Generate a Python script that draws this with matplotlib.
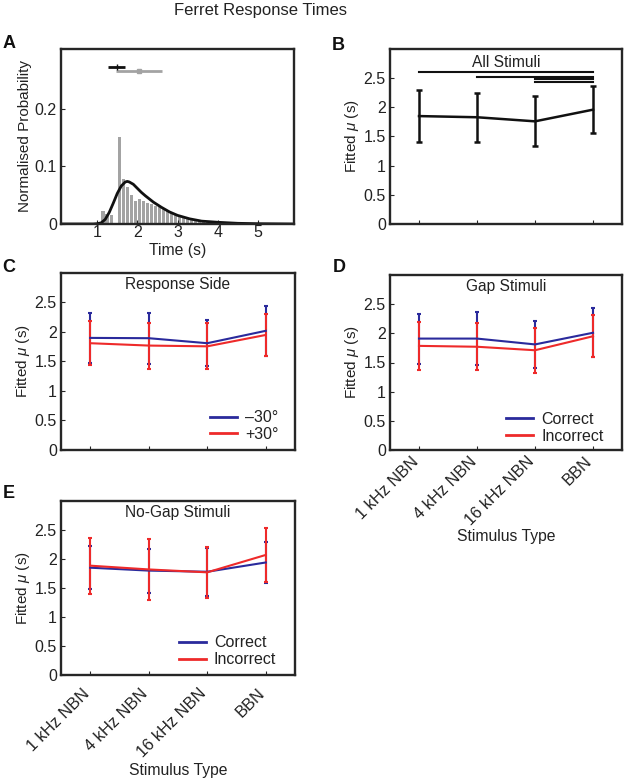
import matplotlib
matplotlib.use("Agg")
import matplotlib.pyplot as plt
from matplotlib.lines import Line2D
import numpy as np

plt.rcParams['font.family'] = ['Liberation Sans', 'DejaVu Sans']
plt.rcParams['mathtext.fontset'] = 'custom'
plt.rcParams['mathtext.it'] = 'Liberation Sans:italic'

# ---------------- data ----------------
hist_centers = [1.15, 1.25, 1.35, 1.55, 1.65, 1.75, 1.85, 1.95, 2.05, 2.15, 2.25, 2.35,
                2.45, 2.55, 2.65, 2.75, 2.85, 2.95, 3.05, 3.15, 3.25, 3.35, 3.45, 3.55,
                3.65, 3.75, 3.85, 3.95, 4.05, 4.15, 4.25, 4.35, 4.45, 4.55, 4.65, 4.75,
                4.85, 4.95, 5.05, 5.15, 5.25]
hist_heights = [0.023, 0.017, 0.016, 0.151, 0.078, 0.064, 0.050, 0.040, 0.043, 0.040, 0.037, 0.035,
                0.032, 0.029, 0.026, 0.022, 0.019, 0.016, 0.014, 0.012, 0.010, 0.009, 0.007, 0.006,
                0.005, 0.004, 0.004, 0.003, 0.003, 0.002, 0.002, 0.002, 0.002, 0.001, 0.001, 0.001,
                0.001, 0.001, 0.001, 0.001, 0.001]
fit_t = [0.1, 0.9, 1.0, 1.1, 1.2, 1.3, 1.4, 1.5, 1.6, 1.7, 1.75, 1.8, 1.9, 2.0, 2.1, 2.2, 2.4,
         2.6, 2.8, 3.0, 3.3, 3.6, 4.0, 4.5, 5.0, 5.9]
fit_p = [0.0, 0.0, 0.0005, 0.002, 0.008, 0.020, 0.036, 0.053, 0.066, 0.073, 0.074, 0.073, 0.069,
         0.062, 0.055, 0.049, 0.038, 0.029, 0.021, 0.015, 0.009, 0.005, 0.003, 0.0012, 0.0005, 0.0]
summary_black = {'center': 1.50, 'lo': 1.27, 'hi': 1.70, 'y': 0.272}
summary_gray = {'center': 2.05, 'lo': 1.48, 'hi': 2.62, 'y': 0.265}

categories = ['1 kHz NBN', '4 kHz NBN', '16 kHz NBN', 'BBN']

all_mu = [1.85, 1.83, 1.76, 1.96]
all_err = [0.44, 0.42, 0.43, 0.40]
sig_pairs = [(1, 4, 2.60), (2, 4, 2.52), (3, 4, 2.49), (3, 4, 2.43)]

side_neg_mu = [1.90, 1.895, 1.81, 2.02]
side_neg_err = [0.43, 0.435, 0.385, 0.42]
side_pos_mu = [1.81, 1.77, 1.757, 1.95]
side_pos_err = [0.37, 0.39, 0.39, 0.35]

gap_cor_mu = [1.91, 1.91, 1.81, 2.01]
gap_cor_err = [0.43, 0.45, 0.40, 0.42]
gap_inc_mu = [1.785, 1.77, 1.71, 1.95]
gap_inc_err = [0.41, 0.40, 0.39, 0.36]

nogap_cor_mu = [1.85, 1.80, 1.78, 1.94]
nogap_cor_err = [0.37, 0.38, 0.41, 0.36]
nogap_inc_mu = [1.885, 1.82, 1.77, 2.07]
nogap_inc_err = [0.485, 0.52, 0.44, 0.47]

BLUE = '#2a2a9c'
RED = '#ee2a2a'
GRAY = '#a3a3a3'
SPINE = '#262626'
TXT = '#222222'

W, H = 625, 779
fig = plt.figure(figsize=(W / 100, H / 100), dpi=100)


def add_ax(x0, y0, x1, y1):
    return fig.add_axes([x0 / W, 1 - y1 / H, (x1 - x0) / W, (y1 - y0) / H])


def style(ax):
    for s in ax.spines.values():
        s.set_linewidth(1.7)
        s.set_color(SPINE)
    ax.tick_params(direction='in', length=3, width=0.8, labelsize=11.5, pad=3, colors=SPINE,
                   labelcolor=TXT)


def set_ylabel(ax, text, px_left, width_px):
    ax.set_ylabel(text, fontsize=11, color=TXT)
    ax.yaxis.set_label_coords(-px_left / width_px, 0.5)
    ax.yaxis.label.set_va('center')


def set_xlabel(ax, text, px_below, height_px):
    ax.set_xlabel(text, fontsize=11.3, color=TXT)
    ax.xaxis.set_label_coords(0.5, -px_below / height_px)
    ax.xaxis.label.set_va('center')


def mu_panel(ax, title, title_y=0.935):
    style(ax)
    ax.set_xlim(0.5, 4.5)
    ax.set_ylim(0, 3)
    ax.set_yticks([0, 0.5, 1, 1.5, 2, 2.5])
    ax.set_yticklabels(['0', '0.5', '1', '1.5', '2', '2.5'])
    ax.set_xticks([1, 2, 3, 4])
    set_ylabel(ax, r'Fitted $\mu$ (s)', 38, 233)
    ax.text(0.5, title_y, title, transform=ax.transAxes, ha='center', va='center',
            fontsize=11.2, color=TXT)


def cat_labels(ax, pad):
    ax.set_xticklabels(categories, rotation=45, ha='right', va='baseline',
                       rotation_mode='anchor', fontsize=11.8)
    ax.tick_params(axis='x', pad=pad)


def legend(ax, labels, anchor):
    handles = [Line2D([], [], color=BLUE, lw=2), Line2D([], [], color=RED, lw=2)]
    leg = ax.legend(handles, labels, loc='lower right', bbox_to_anchor=anchor, frameon=False,
                    handlelength=1.7, handletextpad=0.5, borderaxespad=0, borderpad=0,
                    labelspacing=0.12, fontsize=11.5)
    for t in leg.get_texts():
        t.set_color(TXT)


xs = np.arange(1, len(categories) + 1)

# ---------------- Panel A ----------------
axA = add_ax(61, 49, 294, 224)
style(axA)
axA.bar(hist_centers, hist_heights, width=0.085, color=GRAY, edgecolor='none')
axA.plot(fit_t, fit_p, color='#111111', lw=2)
axA.errorbar([summary_black['center']], [summary_black['y']],
             xerr=[[summary_black['center'] - summary_black['lo']],
                   [summary_black['hi'] - summary_black['center']]],
             color='#111111', lw=2, marker='+', ms=4, capsize=0)
axA.errorbar([summary_gray['center']], [summary_gray['y']],
             xerr=[[summary_gray['center'] - summary_gray['lo']],
                   [summary_gray['hi'] - summary_gray['center']]],
             color=GRAY, lw=2, marker='s', ms=3, capsize=0)
axA.set_xlim(0.1, 5.9)
axA.set_ylim(0, 0.304)
axA.set_xticks([1, 2, 3, 4, 5])
axA.set_yticks([0, 0.1, 0.2])
axA.set_yticklabels(['0', '0.1', '0.2'])
axA.tick_params(axis='x', pad=1)
set_xlabel(axA, 'Time (s)', 27, 175)
set_ylabel(axA, 'Normalised Probability', 36, 233)

# ---------------- Panel B ----------------
axB = add_ax(390, 49, 622, 224)
mu_panel(axB, 'All Stimuli', title_y=0.92)
axB.errorbar(xs, all_mu, yerr=all_err, color='#111111', lw=1.8, capsize=2.5, capthick=1.8)
for a, b, yv in sig_pairs:
    axB.plot([a, b], [yv, yv], color='#111111', lw=1.5)
axB.set_xticklabels([])

# ---------------- Panel C ----------------
axC = add_ax(61, 273, 295, 450)
mu_panel(axC, 'Response Side')
axC.errorbar(xs, side_neg_mu, yerr=side_neg_err, color=BLUE, lw=1.5, capsize=1.5, capthick=1.5)
axC.errorbar(xs, side_pos_mu, yerr=side_pos_err, color=RED, lw=1.5, capsize=1.5, capthick=1.5)
axC.set_xticklabels([])
legend(axC, ['\u201330\u00b0', '+30\u00b0'], (0.93, 0.045))

# ---------------- Panel D ----------------
axD = add_ax(390, 275, 622, 450)
mu_panel(axD, 'Gap Stimuli')
axD.errorbar(xs, gap_cor_mu, yerr=gap_cor_err, color=BLUE, lw=1.5, capsize=1.5, capthick=1.5)
axD.errorbar(xs, gap_inc_mu, yerr=gap_inc_err, color=RED, lw=1.5, capsize=1.5, capthick=1.5)
cat_labels(axD, 9)
set_xlabel(axD, 'Stimulus Type', 87, 175)
legend(axD, ['Correct', 'Incorrect'], (0.92, 0.035))

# ---------------- Panel E ----------------
axE = add_ax(61, 501, 295, 675)
mu_panel(axE, 'No-Gap Stimuli')
axE.errorbar(xs, nogap_cor_mu, yerr=nogap_cor_err, color=BLUE, lw=1.5, capsize=1.5, capthick=1.5)
axE.errorbar(xs, nogap_inc_mu, yerr=nogap_inc_err, color=RED, lw=1.5, capsize=1.5, capthick=1.5)
cat_labels(axE, 14)
set_xlabel(axE, 'Stimulus Type', 95, 174)
legend(axE, ['Correct', 'Incorrect'], (0.92, 0.045))

# ---------------- labels ----------------
fig.text(261 / W, 1 - 11 / H, 'Ferret Response Times', ha='center', va='center', fontsize=12,
         color=TXT)
for letter, (x, y) in {'A': (9, 43), 'B': (338, 45), 'C': (9, 268), 'D': (339, 268),
                       'E': (9, 493)}.items():
    fig.text(x / W, 1 - y / H, letter, ha='center', va='center', fontsize=13,
             fontweight='bold', color='#111111')

fig.savefig('out.png', dpi=100)
